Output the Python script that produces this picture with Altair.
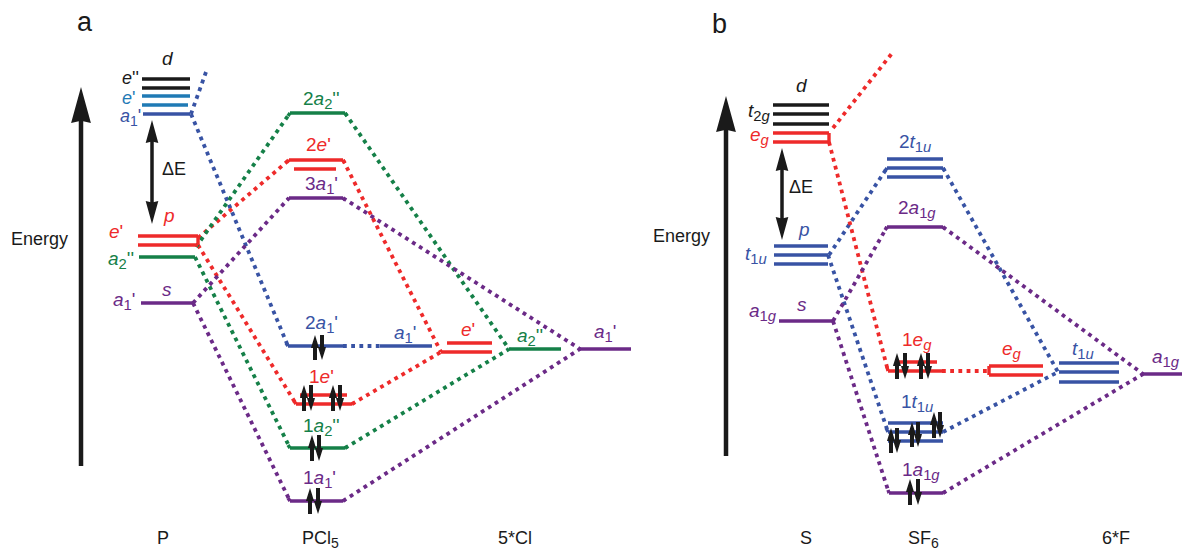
import altair as alt
import pandas as pd

BLACK = "#1a1a1a"
CYAN = "#1f7ab5"
BLUE = "#3853a4"
RED = "#ee2a2a"
GREEN = "#158048"
PURPLE = "#6b2a87"

# energy levels: x start, y, x end
LEVELS = {
    BLACK: [(142, 79, 190), (142, 88, 190), (773, 105, 829), (773, 114, 829), (773, 124, 829)],
    CYAN: [(142, 96, 190), (142, 105, 188)],
    BLUE: [(143, 114, 190), (288, 346, 343), (380, 346, 432),
           (774, 246, 828), (774, 255, 828), (774, 264, 828),
           (887, 159, 943), (887, 168, 943), (887, 177, 943),
           (888, 423, 943), (888, 432, 943), (888, 441, 943),
           (1059, 363, 1119), (1059, 372, 1119), (1059, 382, 1119)],
    RED: [(138, 236, 198), (138, 245, 198), (289, 160, 343), (294, 169, 336),
          (300, 395, 347), (296, 404, 352), (447, 343, 492), (441, 352, 492),
          (773, 133, 829), (773, 142, 829), (895, 362, 937), (888, 371, 942),
          (989, 366, 1043), (989, 375, 1043)],
    GREEN: [(139, 257, 195), (290, 113, 345), (290, 448, 345), (509, 349, 561)],
    PURPLE: [(141, 303, 193), (289, 198, 343), (290, 501, 343), (580, 349, 631),
             (779, 321, 833), (887, 227, 943), (889, 493, 943), (1143, 374, 1190)],
}

# short joins at level ends: x1, y1, x2, y2
JOINS = {
    BLUE: [(288, 346, 286, 343), (887, 168, 885, 171), (943, 168, 945, 171), (888, 432, 886, 428)],
    RED: [(198, 236, 198, 245), (829, 133, 829, 142), (289, 160, 287, 162), (343, 160, 345, 163),
          (296, 404, 294, 401), (352, 404, 354, 403), (888, 371, 887, 367), (989, 366, 989, 375)],
    GREEN: [(290, 113, 288, 116), (345, 113, 347, 116), (290, 448, 288, 445), (345, 448, 347, 447)],
    PURPLE: [(289, 198, 287, 200), (343, 198, 345, 200), (290, 501, 288, 498), (343, 501, 345, 500),
             (887, 227, 885, 230), (943, 227, 945, 229), (889, 493, 888, 490), (943, 493, 945, 492)],
}

# correlation lines: x1, y1, x2, y2
DOTTED = {
    BLUE: [(206, 72, 191, 114), (191, 114, 288, 346), (343, 346, 380, 346),
           (829, 255, 887, 168), (828, 255, 888, 432), (943, 168, 1058, 372), (943, 432, 1058, 372)],
    RED: [(198, 238, 289, 160), (198, 245, 296, 404), (343, 160, 441, 352), (352, 404, 441, 352),
          (833, 128, 893, 52), (829, 142, 888, 371), (942, 371, 989, 371)],
    GREEN: [(196, 247, 290, 113), (195, 257, 290, 448), (345, 113, 509, 349), (345, 448, 509, 349)],
    PURPLE: [(193, 303, 289, 198), (193, 303, 290, 501), (343, 198, 580, 349), (343, 501, 580, 349),
             (833, 321, 887, 227), (833, 321, 889, 493), (943, 227, 1143, 374), (943, 493, 1143, 374)],
}

# vertical arrows: x, tail y, tip y
BIG_ARROWS = [(81, 466, 87), (726, 456, 96)]
DELTA_ARROWS = [(152, 172, 120), (152, 172, 224), (782, 194, 148), (782, 194, 240)]
SPIN_PAIRS = [
    (315, 322, 335, 360), (304, 311, 385, 411), (333, 340, 385, 411),
    (312, 319, 435, 461), (310, 318, 488, 514),
    (897, 905, 353, 379), (921, 928, 353, 379),
    (891, 897, 428, 453), (912, 918, 422, 447), (934, 940, 412, 438),
    (910, 918, 479, 505),
]

# labels: x, baseline y, colour, text ("/" toggles italic, "_" toggles subscript), size
LABELS = [
    (77, 31, BLACK, "a", 27), (712, 33, BLACK, "b", 27),
    (11, 245, BLACK, "Energy", 18), (653, 242, BLACK, "Energy", 18),
    (162, 65, BLACK, "/d/", 19), (122, 84, BLACK, "/e/''", 18), (122, 104, CYAN, "/e/'", 18),
    (120, 122, BLUE, "/a/_1_'", 18), (164, 222, RED, "/p/", 19), (109, 238, RED, "/e/'", 19),
    (108, 265, GREEN, "/a/_2_''", 19), (113, 306, PURPLE, "/a/_1_'", 19), (162, 296, PURPLE, "/s/", 19),
    (162, 175, BLACK, "ΔE", 18),
    (303, 105, GREEN, "2/a/_2_''", 19), (306, 151, RED, "2/e/'", 19), (305, 190, PURPLE, "3/a/_1_'", 19),
    (305, 329, BLUE, "2/a/_1_'", 19), (394, 339, BLUE, "/a/_1_'", 19), (461, 336, RED, "/e/'", 19),
    (517, 342, GREEN, "/a/_2_''", 19), (594, 338, PURPLE, "/a/_1_'", 19), (309, 383, RED, "1/e/'", 19),
    (303, 432, GREEN, "1/a/_2_''", 19), (303, 484, PURPLE, "1/a/_1_'", 19),
    (157, 544, BLACK, "P", 18), (302, 544, BLACK, "PCl_5_", 18), (498, 544, BLACK, "5*Cl", 18),
    (796, 92, BLACK, "/d/", 19), (748, 117, BLACK, "/t/_2/g/_", 19), (750, 141, RED, "/e/_/g/_", 19),
    (789, 193, BLACK, "ΔE", 18), (799, 236, BLUE, "/p/", 19), (745, 260, BLUE, "/t/_1/u/_", 19),
    (749, 317, PURPLE, "/a/_1/g/_", 19), (797, 311, PURPLE, "/s/", 19),
    (899, 148, BLUE, "2/t/_1/u/_", 19), (898, 214, PURPLE, "2/a/_1/g/_", 19),
    (902, 346, RED, "1/e/_/g/_", 19), (1002, 355, RED, "/e/_/g/_", 19), (1072, 355, BLUE, "/t/_1/u/_", 19),
    (1152, 363, PURPLE, "/a/_1/g/_", 19), (901, 408, BLUE, "1/t/_1/u/_", 19),
    (902, 476, PURPLE, "1/a/_1/g/_", 19),
    (800, 544, BLACK, "S", 18), (908, 544, BLACK, "SF_6_", 18), (1102, 544, BLACK, "6*F", 18),
]

GLYPH_EM = {"a": .556, "e": .556, "s": .5, "p": .556, "d": .556, "t": .278, "g": .556, "u": .556,
            "'": .191, "P": .667, "C": .722, "l": .222, "S": .667, "F": .611, "*": .389}


def runs(x, y, colour, markup, size):
    rows = []
    italic = sub = False
    for ch in markup:
        if ch == "/":
            italic = not italic
        elif ch == "_":
            sub = not sub
        else:
            s = size * (0.78 if sub else 1)
            rows.append(dict(x=x, y=y + (size * 0.2 if sub else 0), t=ch, c=colour, s=s, i=italic))
            x += GLYPH_EM.get(ch, .556) * s
    return rows


text_rows = []
for x, y, colour, markup, size in LABELS:
    if markup in ("Energy", "ΔE"):
        text_rows.append(dict(x=x, y=y, t=markup, c=colour, s=size, i=False))
    else:
        text_rows += runs(x, y, colour, markup, size)
texts = pd.DataFrame(text_rows)

levels = pd.DataFrame([dict(x=a, y=b, x2=c, y2=b, c=k) for k, v in LEVELS.items() for a, b, c in v]
                      + [dict(x=a, y=b, x2=c, y2=d, c=k) for k, v in JOINS.items() for a, b, c, d in v])
dotted = pd.DataFrame([dict(x=a, y=b, x2=c, y2=d, c=k) for k, v in DOTTED.items() for a, b, c, d in v])

UP = "M0,-1 L0.55,1 L0,0.88 L-0.55,1 Z"
DOWN = "M0,1 L0.55,-1 L0,-0.88 L-0.55,-1 Z"
SPIN_UP = "M0,-1 L0.62,1 L-0.62,1 Z"
SPIN_DOWN = "M0,1 L0.62,-1 L-0.62,-1 Z"

stems, heads = [], []
for x, tail, tip in BIG_ARROWS:
    stems.append(dict(x=x, y=tail, y2=tip + 20, w=4.5))
    heads.append(dict(x=x, y=tip + 18, p=UP, s=36 ** 2))
for x, tail, tip in DELTA_ARROWS:
    d = 1 if tip < tail else -1
    stems.append(dict(x=x, y=tail, y2=tip + d * 12, w=3.5))
    heads.append(dict(x=x, y=tip + d * 11.5, p=UP if d > 0 else DOWN, s=23 ** 2))
for xu, xd, top, bottom in SPIN_PAIRS:
    stems.append(dict(x=xu, y=bottom, y2=top + 6, w=4))
    stems.append(dict(x=xd, y=top, y2=bottom - 6, w=4))
    heads.append(dict(x=xu, y=top + 6.5, p=SPIN_UP, s=13 ** 2))
    heads.append(dict(x=xd, y=bottom - 6.5, p=SPIN_DOWN, s=13 ** 2))
stems = pd.DataFrame(stems)
heads = pd.DataFrame(heads)

X = alt.Scale(domain=[8, 1182], range=[0, 1174], nice=False, zero=False, clamp=False)
Y = alt.Scale(domain=[8, 550], range=[0, 542], nice=False, zero=False)
xe = alt.X("x:Q", scale=X, axis=None)
ye = alt.Y("y:Q", scale=Y, axis=None)
col = alt.Color("c:N", scale=None, legend=None)

dotted_layer = alt.Chart(dotted).mark_rule(strokeWidth=3.8, strokeDash=[3.8, 4.4]).encode(
    x=xe, y=ye, x2="x2:Q", y2="y2:Q", color=col)
level_layer = alt.Chart(levels).mark_rule(strokeWidth=3.4).encode(
    x=xe, y=ye, x2="x2:Q", y2="y2:Q", color=col)
stem_layer = alt.Chart(stems).mark_rule(color=BLACK).encode(
    x=xe, y=ye, y2="y2:Q", strokeWidth=alt.StrokeWidth("w:Q", scale=None, legend=None))
head_layer = alt.Chart(heads).mark_point(filled=True, opacity=1, color=BLACK, strokeWidth=0).encode(
    x=xe, y=ye, shape=alt.Shape("p:N", scale=None, legend=None), size=alt.Size("s:Q", scale=None, legend=None))


def text_layer(df, style):
    return alt.Chart(df).mark_text(align="left", baseline="alphabetic", font="Liberation Sans",
                                   fontStyle=style).encode(
        x=xe, y=ye, text="t:N", color=col, size=alt.Size("s:Q", scale=None, legend=None))


chart = alt.layer(
    dotted_layer, level_layer, stem_layer, head_layer,
    text_layer(texts[~texts.i], "normal"), text_layer(texts[texts.i], "italic"),
).properties(width=1174, height=542, padding=0, background="white",
             autosize=alt.AutoSizeParams(type="none")).configure_view(stroke=None)

chart.save("out.html", embed_options={"renderer": "svg", "actions": False})
